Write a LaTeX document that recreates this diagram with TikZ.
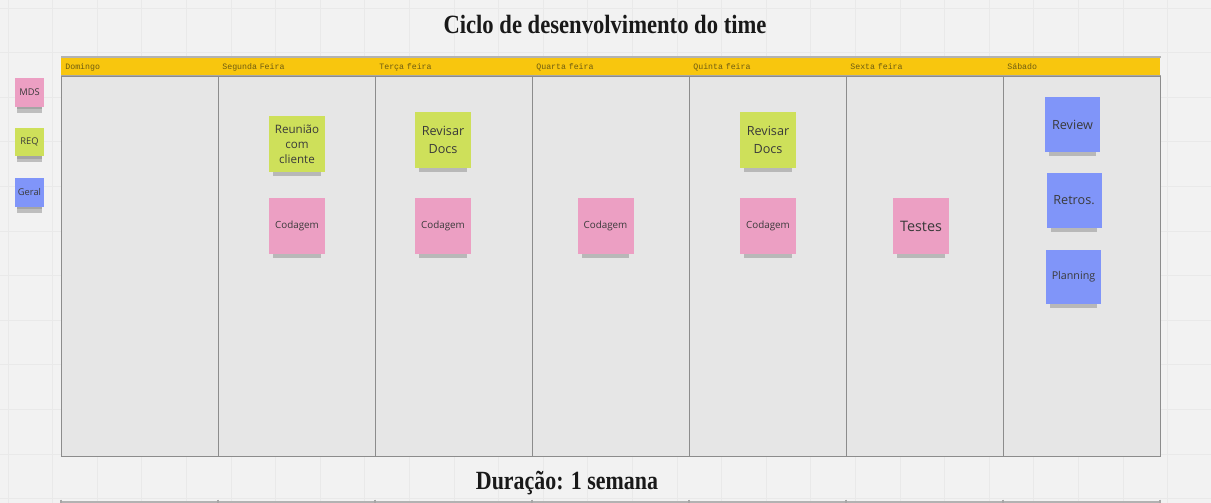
\documentclass[tikz,border=0pt]{standalone}
\usepackage{fontspec}
\setmainfont{Open Sans}
\newfontfamily\titlefont{Liberation Serif}
\newfontfamily\headfont{Liberation Mono}
\usetikzlibrary{positioning,shadows}

\definecolor{bgcol}{HTML}{F2F2F2}
\definecolor{gridcol}{HTML}{E9E9E9}
\definecolor{headcol}{HTML}{F8C60E}
\definecolor{bodycol}{HTML}{E6E6E6}
\definecolor{linecol}{HTML}{8C8C8C}
\definecolor{mdscol}{HTML}{EC9FC3}
\definecolor{reqcol}{HTML}{CEE05A}
\definecolor{geralcol}{HTML}{8095F9}
\definecolor{inkcol}{HTML}{3A3A3A}
\definecolor{daycol}{HTML}{6E5C12}

\tikzset{
  sticky/.style={minimum width=1.12cm, minimum height=1.12cm, inner sep=1pt,
    align=center, text=inkcol, font=\fontsize{5.6}{7.4}\selectfont,
    drop shadow={shadow xshift=0pt, shadow yshift=-0.19cm, opacity=.45, shadow scale=.85}},
  mds/.style={sticky, fill=mdscol},
  req/.style={sticky, fill=reqcol},
  geral/.style={sticky, fill=geralcol},
  keybox/.style={sticky, minimum width=0.58cm, minimum height=0.58cm,
    font=\fontsize{5.3}{6}\selectfont,
    drop shadow={shadow xshift=0pt, shadow yshift=-0.1cm, opacity=.4, shadow scale=.85}},
  dayhead/.style={fill=headcol, minimum height=0.36cm, text width=2.98cm,
    text height=1.6mm, text depth=0.4mm,
    inner xsep=0.08cm, inner ysep=0pt, align=left, text=daycol,
    font=\headfont\fontsize{4.7}{5}\selectfont},
  daybody/.style={fill=bodycol, draw=linecol, line width=0.5pt,
    minimum width=3.14cm, minimum height=7.6cm, inner sep=0pt},
}

\begin{document}
\begin{tikzpicture}[x=0.02cm, y=-0.02cm]

    % background and faint grid
    \clip (0,0) rectangle (1211,503);
    \fill[bgcol] (0,0) rectangle (1211,503);
    \foreach \g in {0,...,27} {
      \draw[gridcol, line width=0.4pt] ({8+44.6*\g},0) -- ({8+44.6*\g},503);
    }
    \foreach \g in {0,...,11} {
      \draw[gridcol, line width=0.4pt] (0,{8+44.6*\g}) -- (1211,{8+44.6*\g});
    }

    % Title
    \node[font=\titlefont\bfseries\fontsize{12.5}{14}\selectfont, text=black!90] (title) at (605,24)
      {\scalebox{1.03}[1.2]{Ciclo de desenvolvimento do time}};

    % ================================
    % Days

    \foreach \day [count=\i from 0] in {Domingo, Segunda Feira, Terça feira,
        Quarta feira, Quinta feira, Sexta feira, Sábado} {
      \node[dayhead, anchor=north west] (head\i) at ({61+157*\i},57) {\day};
      \node[daybody, anchor=north] (col\i) at (head\i.south) {};
    }
    \draw[black!30, line width=0.8pt] (head0.north west) -- (head6.north east);
    \draw[black!35, line width=0.8pt] (head0.south west) -- (head6.south east);
    \draw[black!45, line width=1.1pt] (col0.south west) -- (col6.south east);

    % ================================
    % Legend

    \node[keybox, fill=mdscol] (keymds) at (29.5,92.5) {MDS};
    \node[keybox, fill=reqcol] (keyreq) at (29.5,142) {REQ};
    \node[keybox, fill=geralcol] (keygeral) at (29.5,192.5) {Geral};

    % ================================
    % Stickies

    % Segunda
    \node[req, font=\fontsize{6.6}{8.6}\selectfont] (reuniao) at (297,144) {Reunião\\com\\cliente};
    \node[mds] (codseg) at (297,226) {Codagem};

    % Terca
    \node[req, font=\fontsize{7.2}{10}\selectfont] (revter) at (443,140) {Revisar\\Docs};
    \node[mds] (codter) at (443,226) {Codagem};

    % Quarta
    \node[mds] (codqua) at (605.5,226) {Codagem};

    % Quinta
    \node[req, font=\fontsize{7.2}{10}\selectfont] (revqui) at (768,140) {Revisar\\Docs};
    \node[mds] (codqui) at (768,226) {Codagem};

    % Sexta
    \node[mds, font=\fontsize{8.2}{10}\selectfont] (testes) at (921,226) {Testes};

    % Sabado
    \node[geral, minimum size=1.1cm, font=\fontsize{7.2}{9}\selectfont] (review) at (1072.5,124.5) {Review};
    \node[geral, minimum size=1.1cm, font=\fontsize{7.2}{9}\selectfont] (retros) at (1074,200.5) {Retros.};
    \node[geral, minimum size=1.1cm, font=\fontsize{6.1}{8}\selectfont] (planning) at (1073.5,277) {Planning};

    % ================================
    % Footer

    \node[font=\titlefont\bfseries\fontsize{13}{15}\selectfont, text=black!90] (duracao) at (567,483)
      {\scalebox{0.96}[1.15]{Duração: 1 semana}};

    % next board, cut off
    \draw[black!30, line width=0.8pt] (61,502) -- (1160,502);
    \foreach \i in {0,...,7} {
      \draw[black!35, line width=0.6pt] ({61+157*\i},499.5) -- ({61+157*\i},503);
    }

\end{tikzpicture}
\end{document}
